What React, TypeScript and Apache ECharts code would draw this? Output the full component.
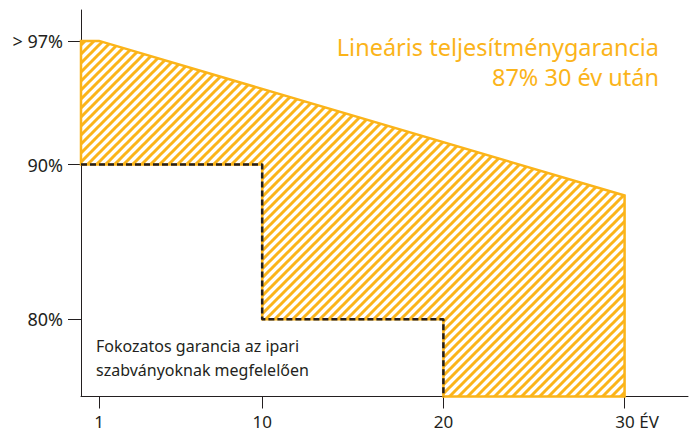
import React, { useEffect, useRef } from "react";
import * as echarts from "echarts";

// Data
const linearYears = [0, 1, 30];
const linearValues = [98, 98, 88];
const stepYears = [0, 10, 10, 20, 20];
const stepValues = [90, 90, 80, 80, 75];
const xTicks = [1, 10, 20, 30];
const yTicks = [80, 90, 98];
const yTickLabels: Record<number, string> = { 80: "80%", 90: "90%", 98: "> 97%" };
const titleLines = ["Lineáris teljesítménygarancia", "87% 30 év után"];
const noteLines = ["Fokozatos garancia az ipari", "szabványoknak megfelelően"];

const Y_MIN = 75;
const Y_MAX = 100;
const X_MIN = 0;
const X_MAX = 33.5;

const ORANGE = "#FBB41A";
const INK = "#231F20";
const FONT = "'Noto Sans', sans-serif";

function makeHatch(): HTMLCanvasElement {
  const s = 9;
  const c = document.createElement("canvas");
  c.width = s;
  c.height = s;
  const ctx = c.getContext("2d")!;
  ctx.fillStyle = "#ffffff";
  ctx.fillRect(0, 0, s, s);
  ctx.strokeStyle = ORANGE;
  ctx.lineWidth = 3;
  ctx.beginPath();
  ctx.moveTo(-1, s + 1);
  ctx.lineTo(s + 1, -1);
  ctx.moveTo(-s / 2 - 1, s / 2 + 1);
  ctx.lineTo(s / 2 + 1, -s / 2 - 1);
  ctx.moveTo(s / 2 - 1, s * 1.5 + 1);
  ctx.lineTo(s * 1.5 + 1, s / 2 - 1);
  ctx.stroke();
  return c;
}

export default function App() {
  const ref = useRef<HTMLDivElement>(null);

  useEffect(() => {
    if (!ref.current) return;
    const chart = echarts.init(ref.current, undefined, { renderer: "svg" });
    const hatch = makeHatch();
    const pattern: any = {
      image: hatch.toDataURL(),
      repeat: "repeat",
      imageWidth: hatch.width,
      imageHeight: hatch.height,
    };

    const polygon: number[][] = [];
    linearYears.forEach((x, i) => polygon.push([x, linearValues[i]]));
    polygon.push([linearYears[linearYears.length - 1], Y_MIN]);
    for (let i = stepYears.length - 1; i >= 0; i--) polygon.push([stepYears[i], stepValues[i]]);

    const stepData = stepYears.map((x, i) => [x, stepValues[i]]);

    chart.setOption({
      animation: false,
      grid: { left: 81, right: 1, top: 10, bottom: 32, containLabel: false },
      xAxis: {
        type: "value",
        min: X_MIN,
        max: X_MAX,
        splitLine: { show: false },
        axisLine: { show: true, lineStyle: { color: INK, width: 1 } },
        axisTick: { show: true, length: 12, customValues: xTicks, lineStyle: { color: INK, width: 1 } },
        axisLabel: {
          customValues: xTicks,
          margin: 20,
          color: INK,
          fontFamily: FONT,
          fontSize: 17,
          lineHeight: 10,
          formatter: (v: number) => (v === 30 ? "{n|30}{u| ÉV}" : String(v)),
          rich: {
            n: { fontFamily: FONT, fontSize: 17, lineHeight: 10, color: INK, padding: [0, 0, 0, 25] },
            u: { fontFamily: FONT, fontSize: 17, lineHeight: 10, color: INK },
          },
        },
      },
      yAxis: {
        type: "value",
        min: Y_MIN,
        max: Y_MAX,
        splitLine: { show: false },
        axisLine: { show: true, lineStyle: { color: INK, width: 1 } },
        axisTick: { show: true, length: 13, customValues: yTicks, lineStyle: { color: INK, width: 1 } },
        axisLabel: {
          customValues: yTicks,
          margin: 18,
          color: INK,
          fontFamily: FONT,
          fontSize: 18,
          formatter: (v: number) => yTickLabels[v] ?? "",
        },
      },
      series: [
        {
          type: "custom",
          z: 2,
          data: [[0, 90]],
          renderItem: (_params: any, api: any) => {
            const pts = polygon.map((p) => api.coord(p));
            return {
              type: "polygon",
              shape: { points: pts },
              style: { fill: pattern, stroke: ORANGE, lineWidth: 2.5, lineJoin: "miter" },
            };
          },
        },
        {
          type: "line",
          z: 4,
          data: stepData,
          symbol: "none",
          lineStyle: { color: INK, width: 2.5, type: [6, 3] },
        },
      ],
      graphic: [
        {
          type: "text",
          right: 30,
          top: 32,
          style: {
            text: titleLines.join("\n"),
            fill: ORANGE,
            font: `23.5px ${FONT}`,
            textAlign: "right",
            lineHeight: 30,
          },
          z: 10,
        },
        {
          type: "text",
          left: 96,
          top: 334,
          style: {
            text: noteLines.join("\n"),
            fill: INK,
            font: `16px ${FONT}`,
            lineHeight: 24,
          },
          z: 10,
        },
      ],
    });
    return () => chart.dispose();
  }, []);

  return <div ref={ref} style={{ width: 689, height: 430, position: "absolute", left: 0, top: 0, overflow: "hidden" }} />;
}
